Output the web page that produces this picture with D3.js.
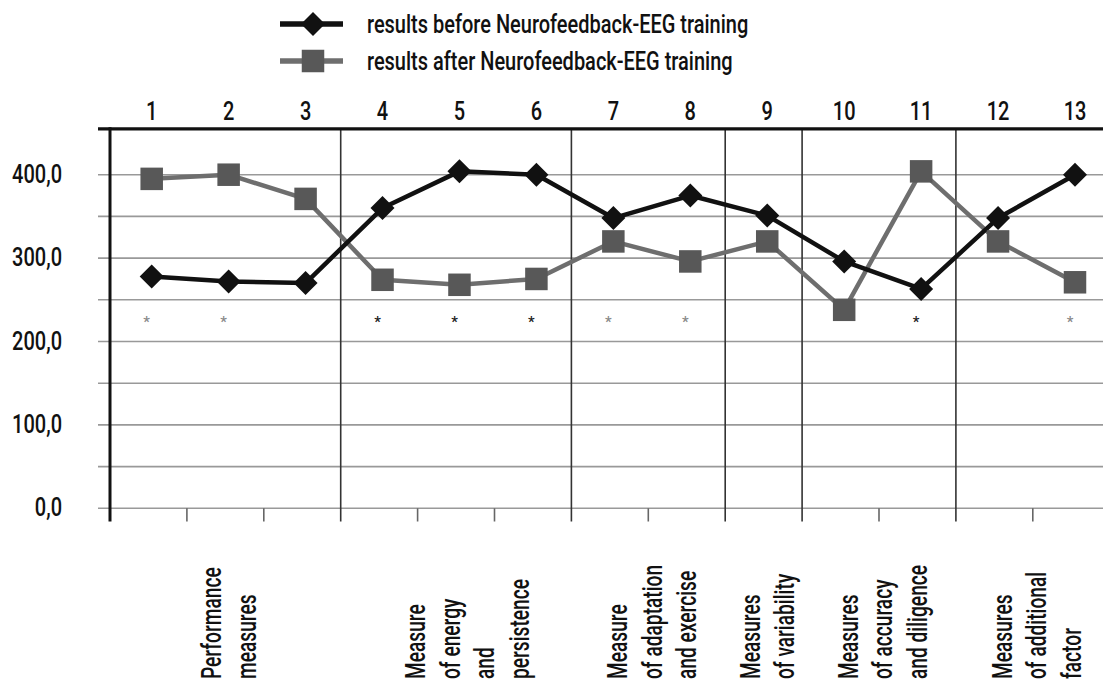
<!DOCTYPE html>
<html>
<head>
<meta charset="utf-8">
<script src="https://cdn.jsdelivr.net/npm/d3@7"></script>
<style>
  html, body { margin: 0; padding: 0; background: #fff; }
  svg text { font-family: "Roboto", "Liberation Sans", sans-serif; font-weight: 500; fill: #111; }
</style>
</head>
<body>
<svg id="chart" width="1103" height="681"></svg>
<script>
// ---------- data ----------
const categories = ["1","2","3","4","5","6","7","8","9","10","11","12","13"];
const beforeValues = [278, 272, 270, 360, 404, 400, 348, 375, 351, 296, 263, 348, 400];
const afterValues  = [395, 400, 371, 274, 268, 275, 320, 296, 320, 238, 404, 320, 271];
const yTickValues = [0, 100, 200, 300, 400];
const gridValues = [0, 50, 100, 150, 200, 250, 300, 350, 400];
const seriesNames = ["results before Neurofeedback-EEG training", "results after Neurofeedback-EEG training"];
const groupCategories = [["1","2","3"], ["4","5","6"], ["7","8"], ["9"], ["10","11"], ["12","13"]];
const groupLabels = [
  ["Performance", "measures"],
  ["Measure", "of energy", "and", "persistence"],
  ["Measure", "of adaptation", "and exercise"],
  ["Measures", "of variability"],
  ["Measures", "of accuracy", "and diligence"],
  ["Measures", "of additional", "factor"]
];
const asteriskCategories = ["1","2","4","5","6","7","8","11","13"];
const asteriskTones = ["gray","gray","black","black","black","gray","gray","black","gray"];
const asteriskLevel = 226;
const axisTopValue = 455;

// ---------- layout ----------
const W = 1103, H = 681;
const condense = 0.8;        // horizontal squeeze to mimic a condensed face
const condenseLabels = 0.71; // squeeze for the rotated group labels
const svg = d3.select("#chart");
svg.append("rect").attr("width", W).attr("height", H).attr("fill", "#fff");

const y = d3.scaleLinear().domain([0, 400]).range([508.3, 174.7]);
const xBand = d3.scaleBand().domain(categories).range([110, 110 + 13 * 76.9]);
const x = d3.scalePoint().domain(categories).range([151.7, 1075]);
const tickBottom = 521.5;
const plotLeft = 110, gridLeft = 98;

function ctext(sel, tx, ty, extra, k) {
  return sel.append("text")
    .attr("transform", `translate(${tx},${ty}) ${extra || ""} scale(${k || condense},1)`);
}

// gridlines
svg.append("g").selectAll("line").data(gridValues).join("line")
  .attr("x1", gridLeft).attr("x2", W)
  .attr("y1", d => y(d)).attr("y2", d => y(d))
  .attr("stroke", "#999").attr("stroke-width", 1.6);

// group separators and small ticks
const groupEnds = new Set(groupCategories.slice(0, -1).map(g => g[g.length - 1]));
const boundaries = categories.slice(0, -1);
svg.append("g").selectAll("line").data(boundaries).join("line")
  .attr("x1", d => xBand(d) + xBand.bandwidth()).attr("x2", d => xBand(d) + xBand.bandwidth())
  .attr("y1", d => groupEnds.has(d) ? y(axisTopValue) : y(0))
  .attr("y2", tickBottom)
  .attr("stroke", d => groupEnds.has(d) ? "#333" : "#666")
  .attr("stroke-width", 1.6);

// top axis line
svg.append("line").attr("x1", gridLeft).attr("x2", W)
  .attr("y1", y(axisTopValue)).attr("y2", y(axisTopValue))
  .attr("stroke", "#111").attr("stroke-width", 3.2);
// left axis line
svg.append("line").attr("x1", plotLeft).attr("x2", plotLeft)
  .attr("y1", y(axisTopValue) - 1.5).attr("y2", tickBottom)
  .attr("stroke", "#111").attr("stroke-width", 3);

// y labels
const yl = svg.append("g");
yTickValues.forEach(v => {
  ctext(yl, 62, y(v) + 8).attr("text-anchor", "end").attr("font-size", 25)
    .text(d3.format(".1f")(v).replace(".", ","));
});

// top category numbers
const tl = svg.append("g");
categories.forEach(c => {
  ctext(tl, x(c), 119.5).attr("text-anchor", "middle").attr("font-size", 25).text(c);
});

// asterisks
svg.append("g").selectAll("text").data(asteriskCategories).join("text")
  .attr("x", d => x(d) - 5).attr("y", y(asteriskLevel) + 7.5)
  .attr("text-anchor", "middle").attr("font-size", 15)
  .style("fill", (d, i) => asteriskTones[i] === "black" ? "#222" : "#8a8a8a")
  .text("*");

// series lines
const line = d3.line().x((d, i) => x(categories[i])).y(d => y(d));
svg.append("path").datum(afterValues).attr("d", line)
  .attr("fill", "none").attr("stroke", "#6e6e6e").attr("stroke-width", 4.5).attr("stroke-linejoin", "round");
svg.append("path").datum(beforeValues).attr("d", line)
  .attr("fill", "none").attr("stroke", "#111").attr("stroke-width", 4.5).attr("stroke-linejoin", "round");

const squareSize = 22.5, diamondHalf = 12;
const diamondPath = `M0,${-diamondHalf}L${diamondHalf},0L0,${diamondHalf}L${-diamondHalf},0Z`;

svg.append("g").selectAll("rect").data(afterValues).join("rect")
  .attr("x", (d, i) => x(categories[i]) - squareSize / 2)
  .attr("y", d => y(d) - squareSize / 2)
  .attr("width", squareSize).attr("height", squareSize)
  .attr("fill", "#585858");

svg.append("g").selectAll("path").data(beforeValues).join("path")
  .attr("transform", (d, i) => `translate(${x(categories[i])},${y(d)})`)
  .attr("d", diamondPath).attr("fill", "#111");

// legend
const legend = svg.append("g");
const legendRows = [
  { name: seriesNames[0], stroke: "#111", marker: "diamond", cy: 24 },
  { name: seriesNames[1], stroke: "#6e6e6e", marker: "square", cy: 61 }
];
legendRows.forEach(r => {
  legend.append("line").attr("x1", 280).attr("x2", 343).attr("y1", r.cy).attr("y2", r.cy)
    .attr("stroke", r.stroke).attr("stroke-width", 5.5);
  if (r.marker === "diamond") {
    legend.append("path").attr("transform", `translate(313,${r.cy})`).attr("d", diamondPath).attr("fill", "#111");
  } else {
    legend.append("rect").attr("x", 313 - squareSize / 2).attr("y", r.cy - squareSize / 2)
      .attr("width", squareSize).attr("height", squareSize).attr("fill", "#585858");
  }
  ctext(legend, 367, r.cy + 9).attr("font-size", 25).text(r.name);
});

// bottom group labels (rotated)
const lineGap = 34.5;
const bl = svg.append("g");
groupCategories.forEach((cats, gi) => {
  const cx = d3.mean(cats, c => x(c));
  const lines = groupLabels[gi];
  const x0 = cx - (lines.length - 1) / 2 * lineGap + (lines.length > 3 ? 8 : 0);
  lines.forEach((t, li) => {
    ctext(bl, x0 + li * lineGap, 679, "rotate(-90)", condenseLabels)
      .attr("dy", "0.36em").attr("font-size", 27).attr("text-anchor", "start").text(t);
  });
});
</script>
</body>
</html>
